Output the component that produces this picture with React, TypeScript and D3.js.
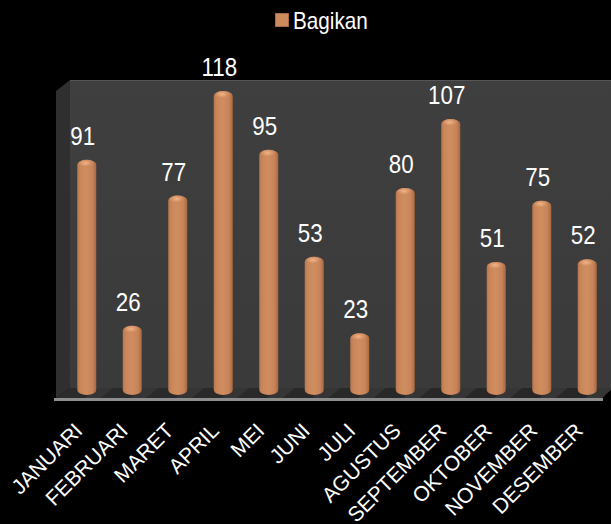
import React from 'react';
import * as d3 from 'd3';

const months = [
  'JANUARI', 'FEBRUARI', 'MARET', 'APRIL', 'MEI', 'JUNI',
  'JULI', 'AGUSTUS', 'SEPTEMBER', 'OKTOBER', 'NOVEMBER', 'DESEMBER',
];
const bagikan = [91, 26, 77, 118, 95, 53, 23, 80, 107, 51, 75, 52];
const seriesName = 'Bagikan';

const W = 611;
const H = 524;
const FONT = "'Liberation Sans', Arial, sans-serif";

// geometry of the fake 3d box
const wallLeft = 70;
const wallTop = 80;
const floorBack = 388;
const depthX = 14;
const depthY = 10;

export default function App() {
  const x = d3.scaleBand<string>().domain(months).range([64, 610]).padding(0);
  const y = d3.scaleLinear().domain([0, 118]).range([392, 91]);
  const bw = 19;
  const barBottom = 395;

  const floorFront = floorBack + depthY;
  const mid = (m: string) => (x(m) ?? 0) + x.bandwidth() / 2;

  return (
    <svg
      width={W}
      height={H}
      style={{ position: 'absolute', left: 0, top: 0, display: 'block', background: '#000' }}
    >
      <defs>
        <linearGradient id="wall" x1="0" y1="0" x2="0" y2="1">
          <stop offset="0" stopColor="#3f3f3f" />
          <stop offset="1" stopColor="#3a3a3a" />
        </linearGradient>
        <linearGradient id="cyl" x1="0" y1="0" x2="1" y2="0">
          <stop offset="0" stopColor="#b87650" />
          <stop offset="0.15" stopColor="#c98659" />
          <stop offset="0.45" stopColor="#d08e60" />
          <stop offset="0.8" stopColor="#c7845a" />
          <stop offset="1" stopColor="#a8683f" />
        </linearGradient>
        <radialGradient id="cap" cx="0.45" cy="0.4" r="0.6">
          <stop offset="0" stopColor="#f0b48a" />
          <stop offset="0.5" stopColor="#d9976a" />
          <stop offset="1" stopColor="#c27f55" stopOpacity="0" />
        </radialGradient>
        <linearGradient id="floor" x1="0" y1="0" x2="1" y2="0">
          <stop offset="0" stopColor="#2b2b2b" />
          <stop offset="1" stopColor="#262626" />
        </linearGradient>
      </defs>

      {/* back wall */}
      <rect x={wallLeft} y={wallTop} width={W - wallLeft} height={floorBack - wallTop} fill="url(#wall)" />
      <line x1={wallLeft} x2={W} y1={wallTop + 0.5} y2={wallTop + 0.5} stroke="#555" strokeWidth={1} />
      {/* left side wall */}
      <polygon
        points={`${wallLeft - depthX},${wallTop + 11} ${wallLeft},${wallTop} ${wallLeft},${floorBack} ${wallLeft - depthX},${floorFront}`}
        fill="#2f2f2f"
      />
      {/* floor */}
      <polygon
        points={`${wallLeft},${floorBack} ${W},${floorBack} ${W - 8},${floorFront} ${wallLeft - depthX},${floorFront}`}
        fill="url(#floor)"
      />
      {months.map((m) => (
        <polygon
          key={'sh' + m}
          points={`${mid(m) + 8},${floorBack} ${mid(m) + 26},${floorBack} ${mid(m) + 14},${floorFront} ${mid(m) - 2},${floorFront}`}
          fill="#353535"
        />
      ))}
      <rect x={wallLeft - depthX - 2} y={floorFront} width={W - 8 - (wallLeft - depthX - 2)} height={3} fill="#8e8e8e" />

      {/* cylinders */}
      {bagikan.map((v, i) => {
        const cx = mid(months[i]);
        const top = y(v);
        return (
          <g key={months[i]}>
            <rect
              x={cx - bw / 2}
              y={top}
              width={bw}
              height={barBottom - top}
              rx={bw / 2}
              ry={5}
              fill="url(#cyl)"
            />
            <ellipse cx={cx - 0.5} cy={top + 4} rx={bw / 2 - 2} ry={4} fill="url(#cap)" />
            <text
              transform={`translate(${cx - 4},${top - 15}) scale(0.86,1)`}
              textAnchor="middle"
              fill="#fff"
              fontFamily={FONT}
              fontSize={26}
            >
              {v}
            </text>
          </g>
        );
      })}

      {/* category labels */}
      {months.map((m) => (
        <text
          key={'lbl' + m}
          transform={`translate(${mid(m) - 3},${432}) rotate(-45)`}
          textAnchor="end"
          fill="#fff"
          fontFamily={FONT}
          fontSize={21}
        >
          {m}
        </text>
      ))}

      {/* legend */}
      <rect x={275.5} y={13.5} width={13} height={13} fill="#cc8a5e" stroke="#a86a42" strokeWidth={1} />
      <text transform="translate(293,29) scale(0.9,1)" fill="#fff" fontFamily={FONT} fontSize={23}>
        {seriesName}
      </text>
    </svg>
  );
}
